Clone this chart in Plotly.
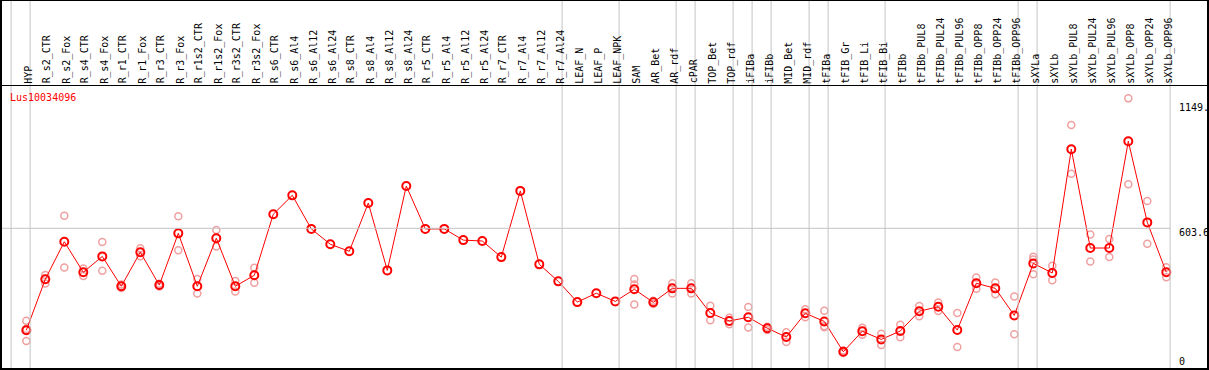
import plotly.graph_objects as go

W, H = 1209, 370

categories = [
    "HYP", "R_s2_CTR", "R_s2_Fox", "R_s4_CTR", "R_s4_Fox", "R_r1_CTR", "R_r1_Fox",
    "R_r3_CTR", "R_r3_Fox", "R_r1s2_CTR", "R_r1s2_Fox", "R_r3s2_CTR", "R_r3s2_Fox",
    "R_s6_CTR", "R_s6_Al4", "R_s6_Al12", "R_s6_Al24", "R_s8_CTR", "R_s8_Al4",
    "R_s8_Al12", "R_s8_Al24", "R_r5_CTR", "R_r5_Al4", "R_r5_Al12", "R_r5_Al24",
    "R_r7_CTR", "R_r7_Al4", "R_r7_Al12", "R_r7_Al24", "LEAF_N", "LEAF_P", "LEAF_NPK",
    "SAM", "AR_Bet", "AR_rdf", "cPAR", "TOP_Bet", "TOP_rdf", "iFIBa", "iFIBb",
    "MID_Bet", "MID_rdf", "tFIBa", "tFIB_Gr", "tFIB_Li", "tFIB_Bi", "tFIBb",
    "tFIBb_PUL8", "tFIBb_PUL24", "tFIBb_PUL96", "tFIBb_OPP8", "tFIBb_OPP24",
    "tFIBb_OPP96", "sXYLa", "sXYLb", "sXYLb_PUL8", "sXYLb_PUL24", "sXYLb_PUL96",
    "sXYLb_OPP8", "sXYLb_OPP24", "sXYLb_OPP96",
]

means = [
    166, 385, 546, 415, 483, 355, 501, 360, 582, 355, 561, 355, 402,
    664, 745, 601, 535, 505, 712, 423, 785, 601, 601, 553, 549, 480, 764, 449, 376,
    287, 325, 290, 342, 286, 346, 346, 240, 206, 222, 175, 137, 239, 204, 74, 162,
    127, 163, 248, 267, 167, 368, 346, 230, 453, 412, 943, 519, 519, 977, 629, 415,
]

replicates = [
    [207, 172, 120], [403, 367], [657, 435], [431, 399], [545, 421], [362, 348],
    [518, 484], [366, 354], [655, 509], [386, 324], [596, 526], [377, 333], [434, 370],
    [], [], [], [], [], [], [], [], [], [], [], [], [], [], [], [],
    [], [], [],
    [386, 363, 277], [293, 279], [368, 324], [368, 324], [271, 209], [220, 192],
    [266, 178], [181, 167], [158, 116], [256, 222], [250, 183, 179], [79, 69],
    [177, 147], [151, 103], [190, 136], [270, 226], [285, 249], [240, 94],
    [392, 344], [371, 321], [311, 149], [482, 470, 407], [443, 381], [1047, 838],
    [577, 461], [558, 480], [1161, 793], [721, 537], [436, 394],
]

# index of last category in each group (vertical separators follow these)
group_ends = [-1, 0, 28, 31, 34, 35, 37, 38, 39, 41, 42, 45, 52, 53, 60]

gene_id = "Lus10034096"
axis_values = [1149.0, 603.6, 0.0]
axis_labels = ["1149.", "603.6", "0"]

# ---- layout geometry (pixels) ----
X0_PX, STEP_PX = 26.3, 19.0        # pixel of first category, spacing
Y0_PX, SCALE = 369.0, 0.2331       # pixel of value 0, pixels per unit
HEAD_PX = 85.5                     # header separator
RIGHT_PX = 1170.3

xmin = -X0_PX / STEP_PX
xmax = (W - X0_PX) / STEP_PX
ymin = (Y0_PX - H) / SCALE
ymax = Y0_PX / SCALE


def px(x):
    return x / W


def py(y):
    return 1 - y / H


def vy(v):
    return Y0_PX - v * SCALE


rep_x, rep_y = [], []
for i, reps in enumerate(replicates):
    for r in reps:
        rep_x.append(i)
        rep_y.append(r)

xs = list(range(len(categories)))

fig = go.Figure()
fig.add_trace(go.Scatter(
    x=rep_x, y=rep_y, mode="markers",
    marker=dict(symbol="circle-open", size=7, color="#f0a0a0",
                line=dict(width=1.5, color="#f0a0a0")),
    hoverinfo="skip", showlegend=False,
))
fig.add_trace(go.Scatter(
    x=xs, y=means, mode="lines+markers",
    line=dict(color="#ff0000", width=1),
    marker=dict(symbol="circle-open", size=8, color="#ff0000",
                line=dict(width=2, color="#ff0000")),
    text=categories, showlegend=False,
))

shapes = []
grey = "#c4c4c4"
for g in group_ends:
    shapes.append(dict(type="line", xref="x", yref="paper", x0=g + 0.2, x1=g + 0.2,
                       y0=py(0), y1=py(369), line=dict(color=grey, width=1)))
shapes.append(dict(type="line", xref="paper", yref="y", x0=px(1), x1=px(RIGHT_PX),
                   y0=axis_values[1], y1=axis_values[1], line=dict(color=grey, width=1)))
# borders
shapes.append(dict(type="line", xref="paper", yref="paper", x0=0, x1=1,
                   y0=py(0.5), y1=py(0.5), line=dict(color="black", width=1)))
shapes.append(dict(type="line", xref="paper", yref="paper", x0=0, x1=1,
                   y0=py(HEAD_PX), y1=py(HEAD_PX), line=dict(color="black", width=1)))
shapes.append(dict(type="line", xref="paper", yref="paper", x0=0, x1=1,
                   y0=py(369), y1=py(369), line=dict(color="black", width=2)))
shapes.append(dict(type="line", xref="paper", yref="paper", x0=px(1), x1=px(1),
                   y0=0, y1=1, line=dict(color="black", width=2)))
shapes.append(dict(type="line", xref="paper", yref="paper", x0=px(1208), x1=px(1208),
                   y0=0, y1=1, line=dict(color="black", width=2)))

annotations = []
for i, c in enumerate(categories):
    annotations.append(dict(
        x=i, xref="x", y=py(84.5), yref="paper", text=c, showarrow=False,
        textangle=-90, xanchor="center", yanchor="bottom", borderpad=0, xshift=2,
        font=dict(family="DejaVu Sans Mono", size=10, color="black"),
    ))
annotations.append(dict(
    x=px(8.5), y=py(97), xref="paper", yref="paper", text=gene_id, showarrow=False,
    xanchor="left", yanchor="middle", borderpad=0,
    font=dict(family="DejaVu Sans Mono", size=10, color="#ff0000"),
))
label_y = [vy(axis_values[0]) + 6.0, vy(axis_values[1]) + 4.0, 361.7]
for lab, ypx in zip(axis_labels, label_y):
    annotations.append(dict(
        x=px(1177.5), y=py(ypx), xref="paper", yref="paper", text=lab, showarrow=False,
        xanchor="left", yanchor="middle", borderpad=0,
        font=dict(family="DejaVu Sans Mono", size=10, color="black"),
    ))

fig.update_layout(
    width=W, height=H, autosize=False,
    margin=dict(l=0, r=0, t=0, b=0, pad=0),
    paper_bgcolor="white", plot_bgcolor="white",
    xaxis=dict(range=[xmin, xmax], visible=False, showgrid=False, zeroline=False,
               fixedrange=True),
    yaxis=dict(range=[ymin, ymax], visible=False, showgrid=False, zeroline=False,
               fixedrange=True),
    shapes=shapes, annotations=annotations,
    showlegend=False,
)

fig.write_html(
    "out.html",
    config={"displayModeBar": False},
    post_script="document.body.style.margin='0';document.body.style.padding='0';"
                "document.body.style.overflow='hidden';",
)
